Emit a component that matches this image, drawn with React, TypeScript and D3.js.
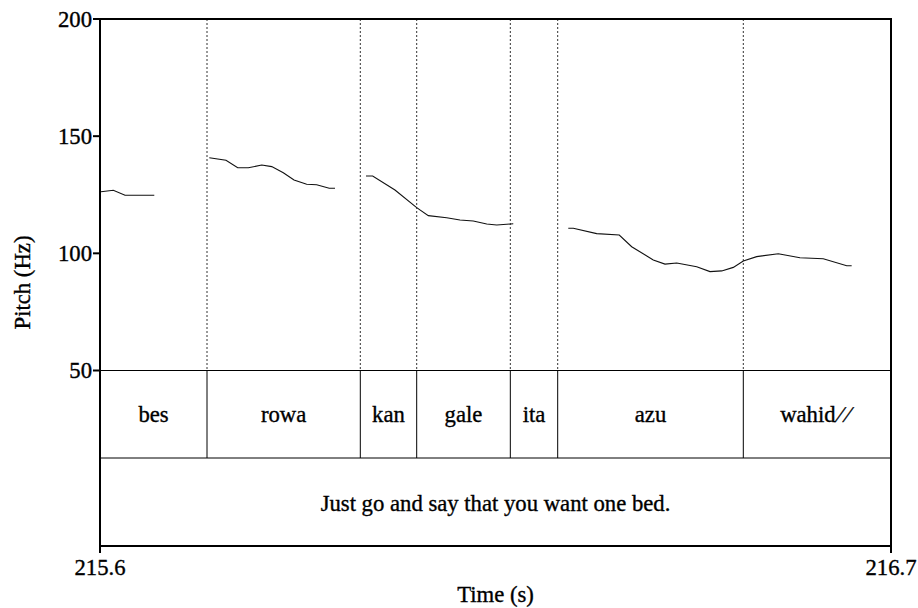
import React from "react";
import * as d3 from "d3";

const W = 918;
const H = 608;

const timeDomain = [215.6, 216.7];
const pitchDomain = [50, 200];
const pitchTicks = [50, 100, 150, 200];
const timeTickLabels = ["215.6", "216.7"];

const wordBoundaries = [215.7488, 215.962, 216.0404, 216.1706, 216.2365, 216.4946];
const words = ["bes", "rowa", "kan", "gale", "ita", "azu", "wahid\u2215\u2215"];
const sentence = "Just go and say that you want one bed.";

const seg1T = [215.6014, 215.6185, 215.6348, 215.6755];
const seg1Hz = [126.3, 126.9, 124.8, 124.8];

const seg2T = [215.752, 215.7752, 215.7915, 215.8063, 215.8249, 215.8388, 215.8549, 215.8698, 215.8874, 215.9013, 215.9188, 215.9268];
const seg2Hz = [140.8, 139.7, 136.5, 136.5, 137.7, 137.0, 134.4, 131.3, 129.5, 129.3, 127.8, 127.8];

const seg3T = [215.9699, 215.9792, 216.0102, 216.0404, 216.0566, 216.0821, 216.1006, 216.1191, 216.1378, 216.1517, 216.1747];
const seg3Hz = [133.0, 133.0, 127.0, 119.5, 116.1, 115.2, 114.2, 113.8, 112.5, 112.1, 112.6];

const seg4T = [216.2512, 216.2582, 216.2907, 216.3221, 216.3394, 216.3694, 216.3857, 216.402, 216.4298, 216.4483, 216.4646, 216.4807, 216.4946, 216.5132, 216.5433, 216.5734, 216.6058, 216.6384, 216.6453];
const seg4Hz = [110.7, 110.7, 108.4, 107.8, 102.8, 97.2, 95.4, 95.9, 94.3, 92.2, 92.5, 94.0, 96.7, 98.6, 99.8, 98.1, 97.7, 94.7, 94.7];

const segments = [
  [seg1T, seg1Hz],
  [seg2T, seg2Hz],
  [seg3T, seg3Hz],
  [seg4T, seg4Hz],
];

const FONT = '"Liberation Serif"';
const FS = 22.7;
const txt: React.CSSProperties = { fontFamily: FONT, fontSize: FS + "px" };

function Label(props: any) {
  return <text {...props} style={txt} fill="#000" stroke="#000" strokeWidth={0.35} />;
}

function renderWord(w: string) {
  const idx = w.indexOf("\u2215");
  if (idx < 0) return w;
  return (
    <>
      {w.slice(0, idx)}
      <tspan dx={3} letterSpacing={4}>
        {w.slice(idx)}
      </tspan>
    </>
  );
}

export default function App() {
  const left = 100, right = 891, top = 19, pitchBottom = 370.5, tierMid = 458, bottom = 546;
  const x = d3.scaleLinear().domain(timeDomain).range([left, right]);
  const y = d3.scaleLinear().domain(pitchDomain).range([pitchBottom, top]);
  const line = d3
    .line<[number, number]>()
    .x((d) => x(d[0]))
    .y((d) => y(d[1]));

  const edges = [timeDomain[0], ...wordBoundaries, timeDomain[1]];

  return (
    <svg width={W} height={H} style={{ position: "absolute", left: 0, top: 0, background: "#fff" }}>
      <rect x={0} y={0} width={W} height={H} fill="#fff" />
      {wordBoundaries.map((b, i) => (
        <line
          key={"d" + i}
          x1={x(b)}
          x2={x(b)}
          y1={top}
          y2={pitchBottom}
          stroke="#333"
          strokeWidth={1}
          strokeDasharray="2,2"
        />
      ))}
      {segments.map(([t, hz], i) => (
        <path
          key={"p" + i}
          d={line(t.map((tt, j) => [tt, hz[j]]) as [number, number][]) || ""}
          fill="none"
          stroke="#111"
          strokeWidth={1.1}
        />
      ))}
      <line x1={left} x2={right} y1={pitchBottom} y2={pitchBottom} stroke="#000" strokeWidth={1} />
      <line x1={left} x2={right} y1={tierMid} y2={tierMid} stroke="#000" strokeWidth={1} />
      {wordBoundaries.map((b, i) => (
        <line key={"w" + i} x1={x(b)} x2={x(b)} y1={pitchBottom} y2={tierMid} stroke="#000" strokeWidth={1} />
      ))}
      {words.map((w, i) => (
        <Label
          key={"t" + i}
          x={(x(edges[i]) + x(edges[i + 1])) / 2}
          y={(pitchBottom + tierMid) / 2}
          textAnchor="middle"
          dominantBaseline="central"
        >
          {renderWord(w)}
        </Label>
      ))}
      <Label x={(left + right) / 2} y={(tierMid + bottom) / 2 + 1} textAnchor="middle" dominantBaseline="central">
        {sentence}
      </Label>
      <rect x={left} y={top} width={right - left} height={bottom - top} fill="none" stroke="#000" strokeWidth={2} />
      {pitchTicks.map((v) => (
        <g key={"yt" + v}>
          <line x1={left - 7} x2={left} y1={y(v)} y2={y(v)} stroke="#000" strokeWidth={2} />
          <Label x={left - 8} y={y(v)} textAnchor="end" dominantBaseline="central">
            {v}
          </Label>
        </g>
      ))}
      {timeDomain.map((v, i) => (
        <g key={"xt" + i}>
          <line x1={x(v)} x2={x(v)} y1={bottom} y2={bottom + 7} stroke="#000" strokeWidth={2} />
          <Label x={x(v)} y={567} textAnchor="middle" dominantBaseline="central">
            {timeTickLabels[i]}
          </Label>
        </g>
      ))}
      <Label x={(left + right) / 2} y={594} textAnchor="middle" dominantBaseline="central">
        Time (s)
      </Label>
      <Label
        transform={`translate(22,${(top + bottom) / 2}) rotate(-90)`}
        textAnchor="middle"
        dominantBaseline="central"
      >
        Pitch (Hz)
      </Label>
    </svg>
  );
}
